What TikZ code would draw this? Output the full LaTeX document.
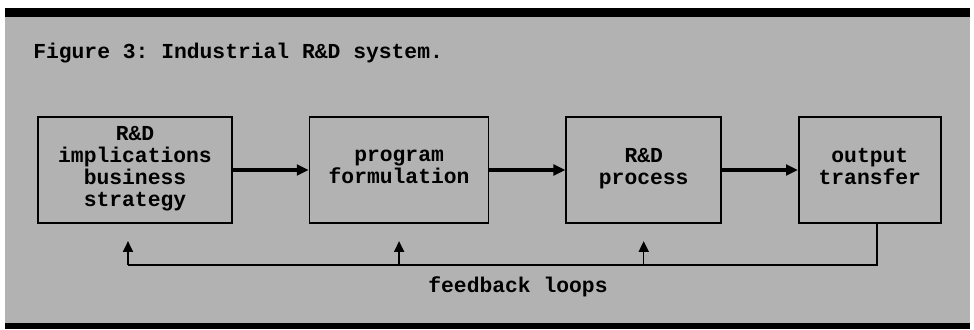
\documentclass[tikz,border=0pt]{standalone}
\usepackage{fontspec}
\setmonofont{Liberation Mono}
\usepackage{tikz}
\usetikzlibrary{arrows.meta, positioning}

\begin{document}
\begin{tikzpicture}[
        x=0.75pt, y=-0.75pt,
        node distance=57pt,
        every node/.style={font=\ttfamily\bfseries\fontsize{16}{16.5}\selectfont},
        block/.style={rectangle, draw, line width=1.2pt, align=center, minimum height=79.5pt, inner sep=0pt,
            execute at begin node=\strut, execute at end node=\strut},
        arrow/.style={line width=2.6pt, -{Triangle[length=9pt, width=8pt]}},
        fbline/.style={line width=1.1pt},
        fbarrow/.style={line width=1.1pt, -{Triangle[length=8pt, width=7.5pt]}, shorten >=13pt}
    ]
    \useasboundingbox (0,0) rectangle (974,329);

    % Frame: grey ground and the two rules
    \fill[black!30] (5,17) rectangle (970,323);
    \fill[black] (5,8) rectangle (970,17);
    \fill[black] (5,323) rectangle (970,329);

    % Caption
    \node [anchor=base west, inner sep=0pt] (title) at (33,58) {Figure 3: Industrial R\&D system.};

    % Stages
    \node [block, minimum width=145.5pt] (strat) at (135,170) {R\&D\\ implications\\ business\\ strategy};
    \node [block, minimum width=134.25pt, right=of strat] (prog) {program\\ formulation};
    \node [block, minimum width=116.25pt, right=of prog] (proc) {R\&D\\ process};
    \node [block, minimum width=106.5pt, right=of proc] (out) {output\\ transfer};

    % Forward flow
    \draw [arrow] (strat) -- (prog);
    \draw [arrow] (prog) -- (proc);
    \draw [arrow] (proc) -- (out);

    % Feedback loops
    \coordinate (fbleft) at (128,265);
    \draw [fbline] ([xshift=5.25pt]out.south) |- (fbleft);
    \draw [fbarrow] (fbleft) -- (fbleft |- strat.south);
    \draw [fbarrow] (prog.south |- fbleft) -- (prog.south);
    \draw [fbarrow] (proc.south |- fbleft) -- (proc.south);
    \node [anchor=base, inner sep=0pt] (fblabel) at (518,292) {feedback loops};

    \end{tikzpicture}
\end{document}
